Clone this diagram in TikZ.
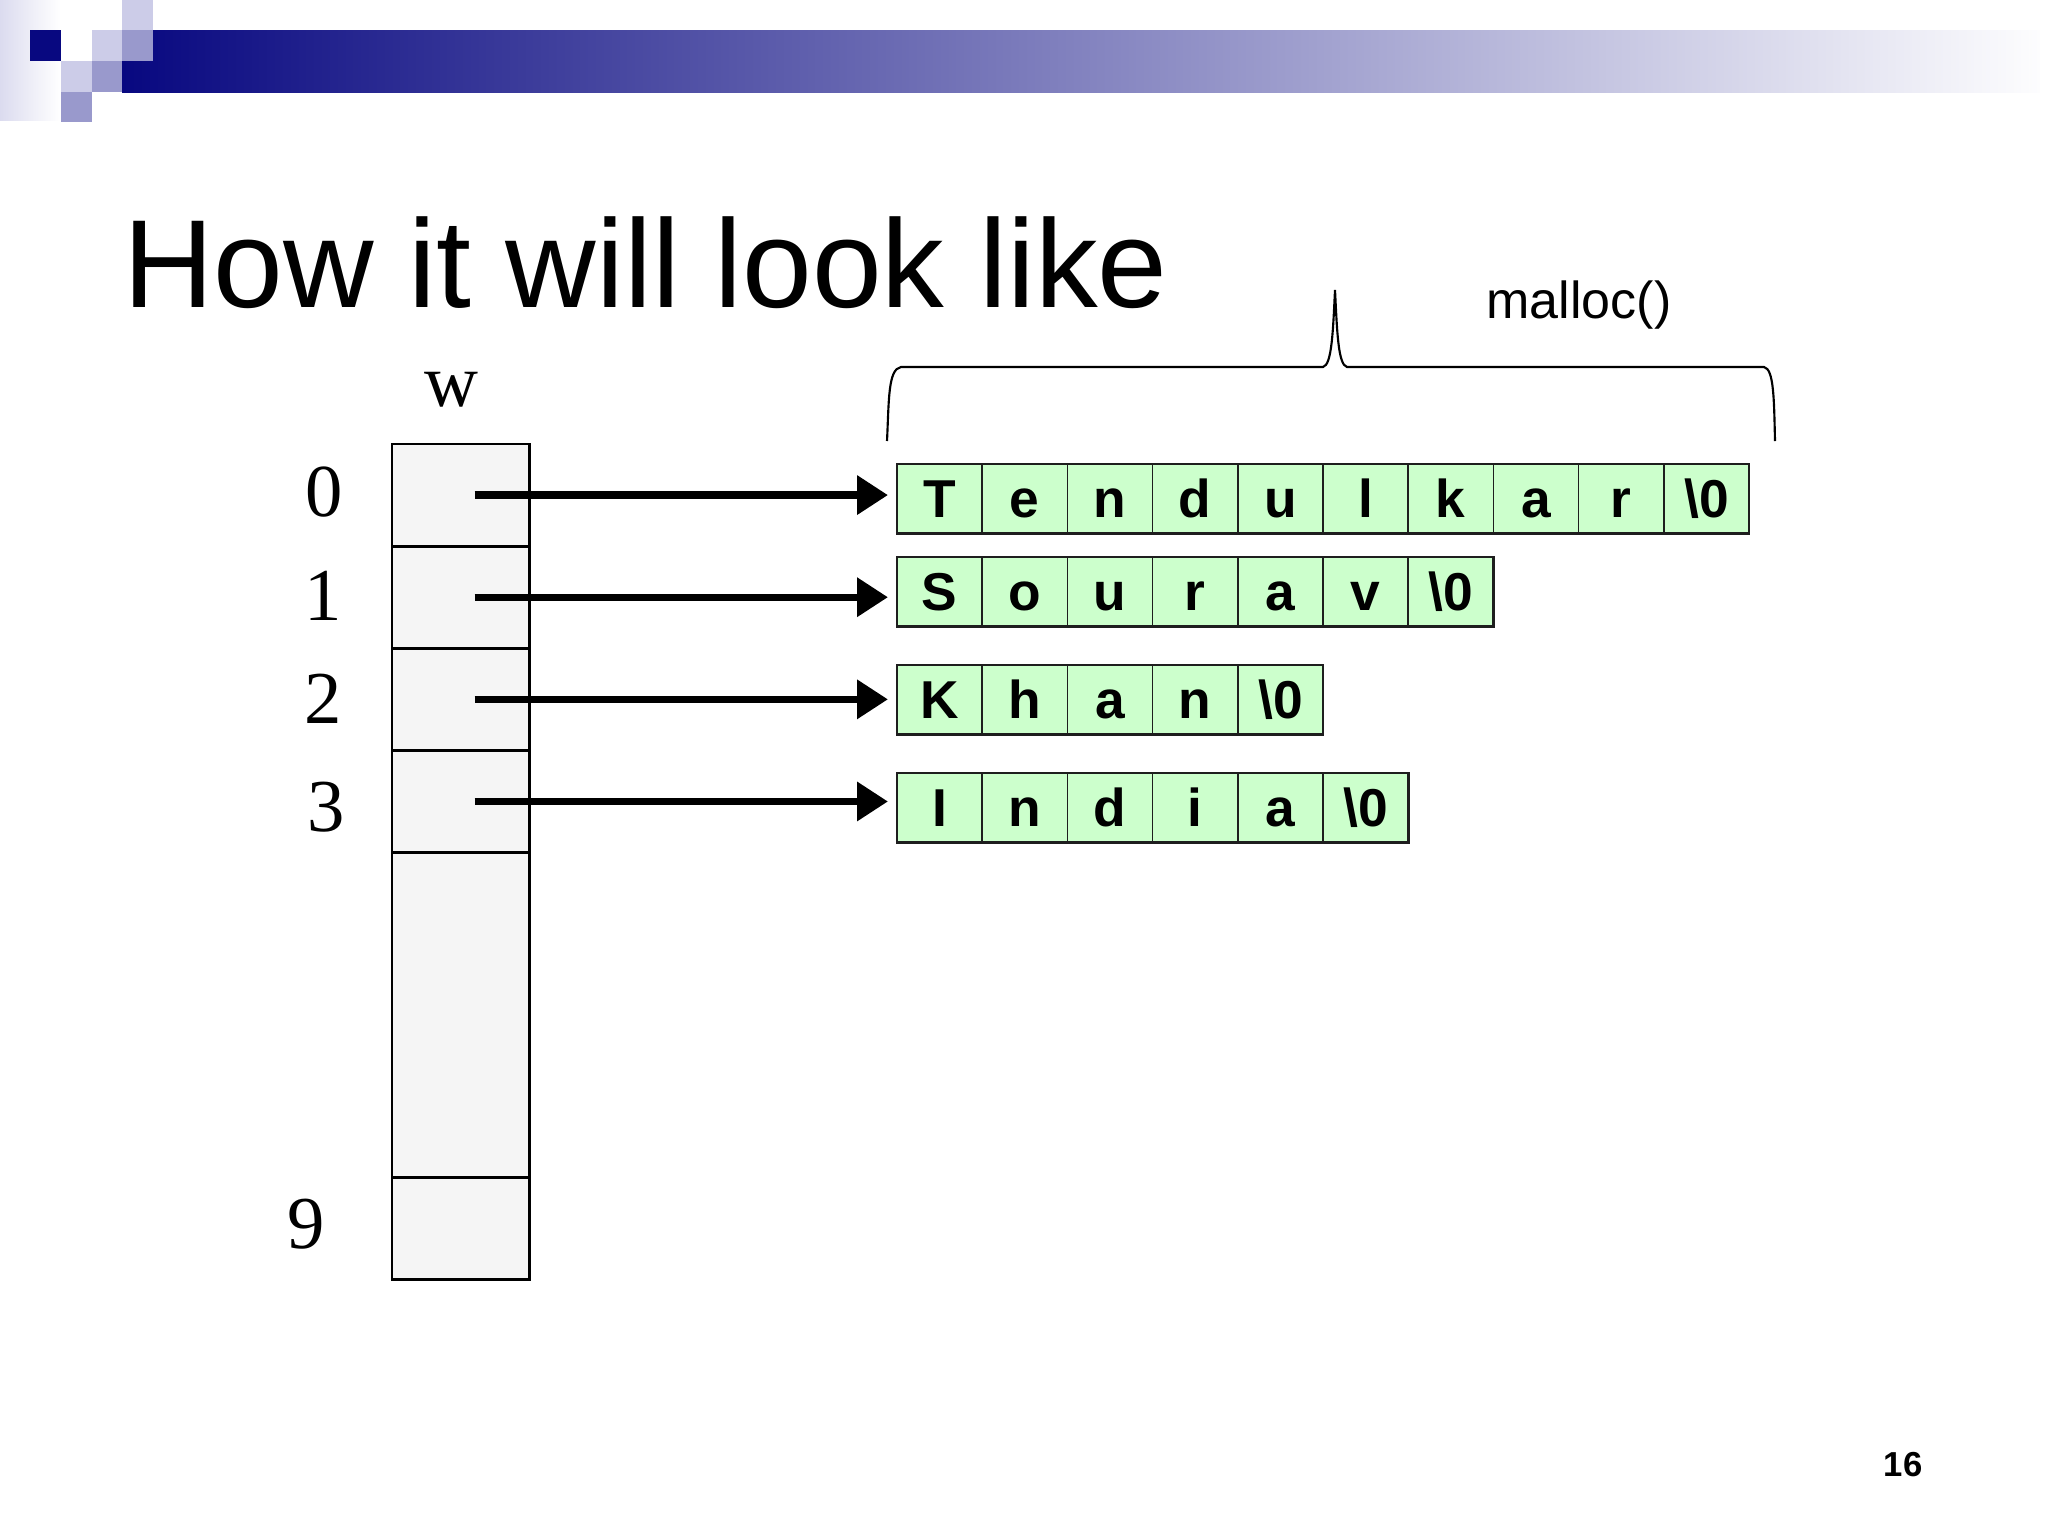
\documentclass[tikz,border=0pt]{standalone}
\usepackage{fontspec}
\setmainfont{Liberation Serif}
\setsansfont{Liberation Sans}
\usetikzlibrary{positioning,arrows.meta}

\definecolor{hdnavy}{RGB}{8,8,128}
\definecolor{hdmid}{RGB}{100,100,175}
\definecolor{hdlight}{RGB}{204,204,232}
\definecolor{hdmedium}{RGB}{153,153,204}
\definecolor{wgray}{RGB}{245,245,245}
\definecolor{chgreen}{RGB}{204,255,204}
\definecolor{chline}{RGB}{30,30,30}

\tikzset{every picture/.style={line width=0.75pt}}
\tikzset{
  wcell/.style={draw, fill=wgray, line width=1.1pt, minimum width=51.4pt, minimum height=38.3pt, inner sep=0pt, outer sep=0pt},
  chcell/.style={draw=chline, fill=chgreen, line width=0.6pt, minimum width=31.95pt, minimum height=25.9pt, inner sep=0pt, outer sep=0pt, text height=14.3pt, text depth=0pt, anchor=north west, font=\sffamily\bfseries\fontsize{20}{24}\selectfont},
  chrow/.style={draw=chline, line width=1.1pt},
  ptr/.style={line width=2.7pt, -{Triangle[length=11.6pt,width=14.2pt]}, shorten >=3.4pt},
  idx/.style={inner sep=0pt, font=\rmfamily\fontsize{28}{32}\selectfont}
}

\begin{document}
\begin{tikzpicture}[x=0.375pt,y=0.375pt,yscale=-1,xscale=1]
\useasboundingbox (0,0) rectangle (2048,1536);

%Header bar and squares
\shade [left color=hdlight!70, right color=white] (0,0) rectangle (60,120);
\shade [left color=hdnavy, middle color=hdmid, right color=white!96!hdlight] (122,30) rectangle (2040,92);
\fill [hdnavy] (30,30) rectangle (61,61);
\fill [hdlight] (92,30) rectangle (122,61);
\fill [hdmedium] (122,30) rectangle (153,61);
\fill [hdlight] (122,0) rectangle (153,30);
\fill [hdlight] (61,61) rectangle (92,92);
\fill [hdmedium] (92,61) rectangle (122,92);
\fill [hdmedium] (61,92) rectangle (92,122);

% Title
\node [anchor=base west, inner sep=0pt, font=\sffamily\fontsize{47}{56}\selectfont] (title) at (122,307) {How it will look like};

% Array w
\node [wcell, anchor=north west] (w0) at (392,444) {};
\node [wcell, below=0pt of w0] (w1) {};
\node [wcell, below=0pt of w1] (w2) {};
\node [wcell, below=0pt of w2] (w3) {};
\node [wcell, below=0pt of w3, minimum height=121.9pt] (wrest) {};
\node [wcell, below=0pt of wrest] (w9) {};

% Index labels
\node [idx] (wlabel) at (451,390) {w};
\node [idx] (i0) at (324,492) {0};
\node [idx] (i1) at (323,596) {1};
\node [idx] (i2) at (323,699) {2};
\node [idx] (i3) at (326,807) {3};
\node [idx] (i9) at (306,1224) {9};

% Strings
\foreach \ch [count=\i] in {T,e,n,d,u,l,k,a,r,\textbackslash0}
  \node [chcell] (a\i) at ({897+85.2*(\i-1)},464) {\ch};
\draw [chrow] (a1.north west) rectangle (a10.south east);

\foreach \ch [count=\i] in {S,o,u,r,a,v,\textbackslash0}
  \node [chcell] (b\i) at ({897+85.2*(\i-1)},557) {\ch};
\draw [chrow] (b1.north west) rectangle (b7.south east);

\foreach \ch [count=\i] in {K,h,a,n,\textbackslash0}
  \node [chcell] (c\i) at ({897+85.2*(\i-1)},665) {\ch};
\draw [chrow] (c1.north west) rectangle (c5.south east);

\foreach \ch [count=\i] in {I,n,d,i,a,\textbackslash0}
  \node [chcell] (d\i) at ({897+85.2*(\i-1)},773) {\ch};
\draw [chrow] (d1.north west) rectangle (d6.south east);

% Pointers
\draw [ptr] ([xshift=5.25pt]w0.center) -- (w0.center -| a1.west);
\draw [ptr] ([xshift=5.25pt]w1.center) -- (w1.center -| b1.west);
\draw [ptr] ([xshift=5.25pt]w2.center) -- (w2.center -| c1.west);
\draw [ptr] ([xshift=5.25pt]w3.center) -- (w3.center -| d1.west);

% Brace
\draw [line width=0.8pt] (887,441) .. controls (889,400) and (888,369) .. (901,367) -- (1323,367) .. controls (1332,365) and (1333,330) .. (1335,290) .. controls (1337,330) and (1338,365) .. (1347,367) -- (1764,367) .. controls (1774,369) and (1774,400) .. (1775,441);
\node [inner sep=0pt, font=\sffamily\fontsize{19.5}{24}\selectfont] (malloc) at (1579,305) {malloc()};

% Page number
\node [inner sep=0pt, font=\sffamily\bfseries\fontsize{13}{16}\selectfont] (page) at (1903,1465) {16};

\end{tikzpicture}
\end{document}
